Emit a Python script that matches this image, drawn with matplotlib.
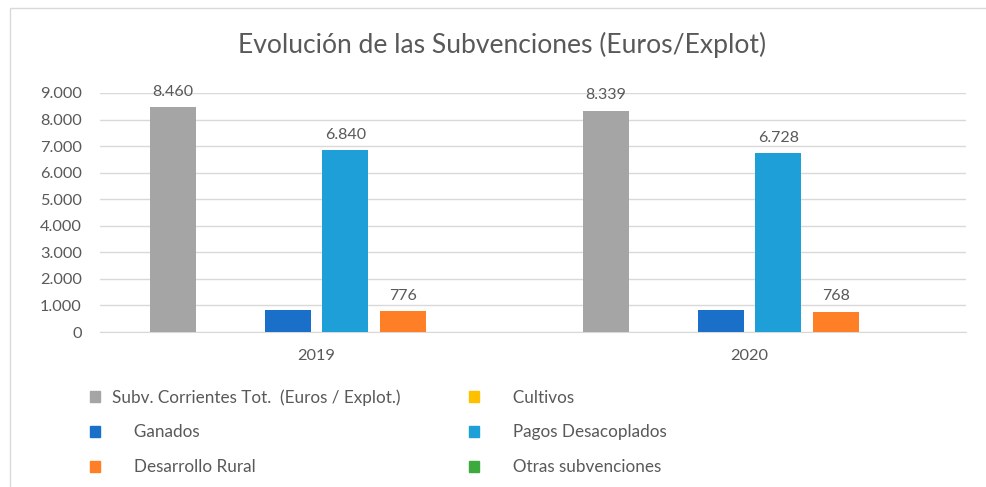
import matplotlib
matplotlib.use("Agg")
import matplotlib.pyplot as plt
import numpy as np
from matplotlib.patches import Rectangle, Patch

years = ["2019", "2020"]
series_names = ["Subv. Corrientes Tot.  (Euros / Explot.)", "Cultivos", "Ganados",
                "Pagos Desacoplados", "Desarrollo Rural", "Otras subvenciones"]
subv_total = [8460, 8339]
cultivos = [0, 0]
ganados = [845, 840]
pagos_desacoplados = [6840, 6728]
desarrollo_rural = [776, 768]
otras = [0, 0]
values = [subv_total, cultivos, ganados, pagos_desacoplados, desarrollo_rural, otras]
show_labels = [True, False, False, True, True, False]
colors = ["#a5a5a5", "#ffc000", "#1a70c8", "#1f9fd8", "#ff7f27", "#3daa3d"]
yticks = [0, 1000, 2000, 3000, 4000, 5000, 6000, 7000, 8000, 9000]

def fmt(v):
    return f"{v:,.0f}".replace(",", ".")

plt.rcParams['font.family'] = ['Lato', 'DejaVu Sans']
txt = "#595959"

fig = plt.figure(figsize=(9.87, 4.87), dpi=100)
W, H = 987, 487
ax = fig.add_axes([100 / W, (H - 332) / H, (966 - 100) / W, (332 - 93) / H])

x = np.arange(len(years))
slot = 0.133
bw = 0.1062
n = len(series_names)
handles = []
for i, (vals, c) in enumerate(zip(values, colors)):
    pos = x + (i - (n - 1) / 2) * slot
    bars = ax.bar(pos, vals, width=bw, color=c, zorder=3)
    handles.append(Patch(color=c))
    if show_labels[i]:
        for b, v in zip(bars, vals):
            ax.annotate(fmt(v), (b.get_x() + b.get_width() / 2, v), xytext=(0, 6),
                        textcoords="offset points", ha="center", va="bottom",
                        fontsize=11.5, color=txt, annotation_clip=False)

ax.set_xlim(-0.5, 1.5)
ax.set_ylim(0, 9000)
ax.set_yticks(yticks)
ax.set_yticklabels([fmt(v) for v in yticks])
ax.set_xticks(x)
ax.set_xticklabels(years)
ax.grid(axis="y", color="#d9d9d9", linewidth=1, zorder=0)
for s in ["top", "right", "left"]:
    ax.spines[s].set_visible(False)
ax.spines["bottom"].set_color("#d9d9d9")
ax.tick_params(axis="y", length=0, pad=13, labelsize=11.8, labelcolor=txt)
ax.tick_params(axis="x", length=0, pad=12, labelsize=11.8, labelcolor=txt)

fig.text(502 / W, 1 - 45 / H, "Evolución de las Subvenciones (Euros/Explot)",
         ha="center", va="center", fontsize=19.1, color=txt)

# chart frame
fig.patches.append(Rectangle((10 / W, -0.1), 1.2, 1.1 - 8 / H,
                             transform=fig.transFigure, fill=False,
                             edgecolor="#d9d9d9", linewidth=1))

order = [0, 2, 4, 1, 3, 5]
leg_labels = ["Subv. Corrientes Tot.  (Euros / Explot.)", "     Ganados", "     Desarrollo Rural",
              "     Cultivos", "     Pagos Desacoplados", "     Otras subvenciones"]
leg = fig.legend([handles[i] for i in order], leg_labels, ncol=2,
                 loc="upper left", bbox_to_anchor=(90 / W, 1 - 389 / H),
                 frameon=False, fontsize=12.3, labelcolor=txt,
                 borderaxespad=0, borderpad=0,
                 handlelength=0.6, handleheight=0.6, handletextpad=0.7,
                 columnspacing=4.0, labelspacing=1.1)

fig.savefig("out.png", dpi=100)
